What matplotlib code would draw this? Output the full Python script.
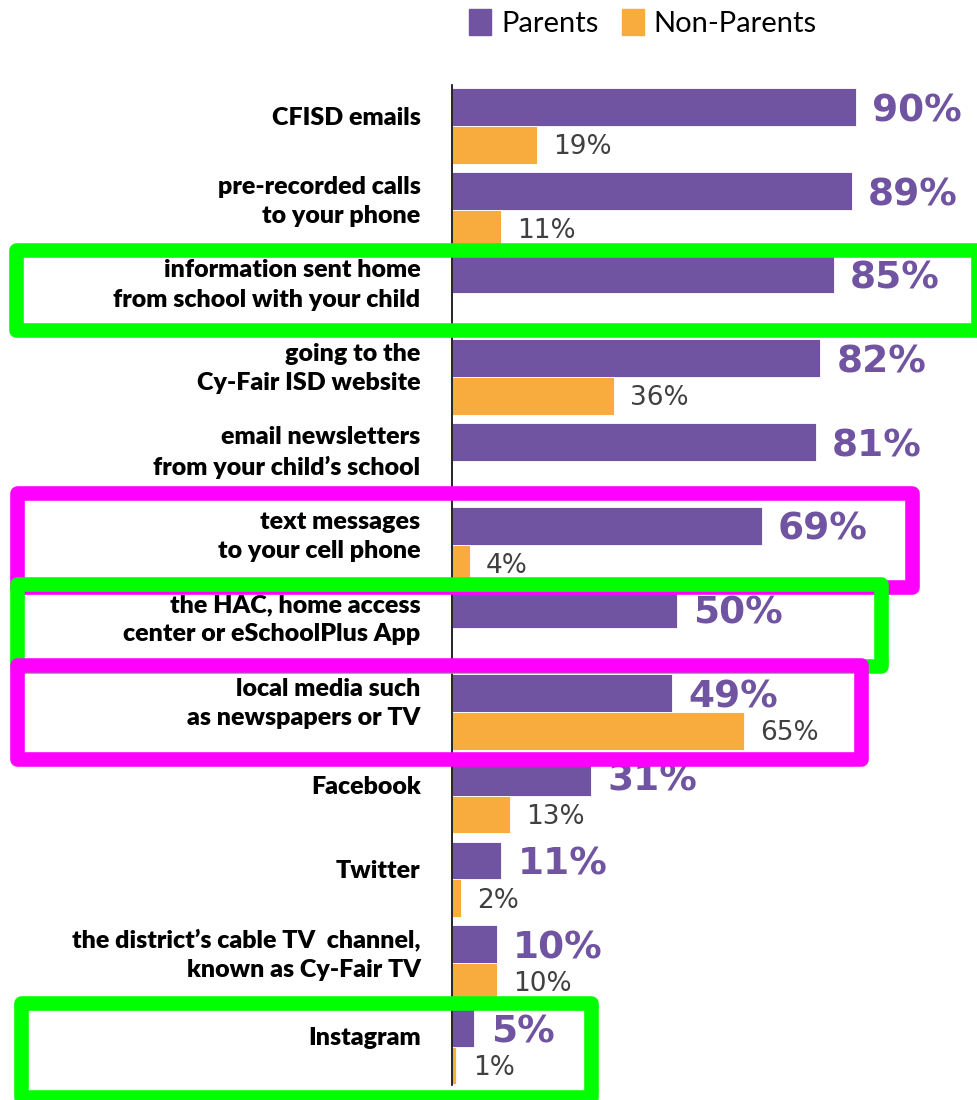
import matplotlib.pyplot as plt
from matplotlib.patches import Rectangle, Patch
from matplotlib.transforms import IdentityTransform

# 数据
categories = [
    "CFISD emails",
    "pre-recorded calls\nto your phone",
    "information sent home\nfrom school with your child",
    "going to the\nCy-Fair ISD website",
    "email newsletters\nfrom your child\u2019s school",
    "text messages\nto your cell phone",
    "the HAC, home access\ncenter or eSchoolPlus App",
    "local media such\nas newspapers or TV",
    "Facebook",
    "Twitter",
    "the district\u2019s cable TV  channel,\nknown as Cy-Fair TV",
    "Instagram",
]
parents = [90, 89, 85, 82, 81, 69, 50, 49, 31, 11, 10, 5]
non_parents = [19, 11, None, 36, None, 4, None, 65, 13, 2, 10, 1]

purple = '#7054a1'
orange = '#f9ac3e'
green = '#00ff00'
magenta = '#ff00ff'

W, H = 977, 1100
fig = plt.figure(figsize=(W / 100, H / 100), dpi=100)
ax = fig.add_axes([452 / W, 0, 1 - 452 / W, 1])

bh = 0.45
for i, (p, n) in enumerate(zip(parents, non_parents)):
    ax.barh(i - bh / 2, p, height=bh, color=purple, edgecolor='white', linewidth=0.6)
    ax.text(p + 3.6, i - bh / 2 + 0.05, f"{p}%", color=purple, fontsize=27,
            fontweight='bold', va='center', ha='left', family='DejaVu Sans')
    if n is not None:
        ax.barh(i + bh / 2, n, height=bh, color=orange, edgecolor='white', linewidth=0.6)
        ax.text(n + 3.6, i + bh / 2 + 0.03, f"{n}%", color='#404040', fontsize=19,
                va='center', ha='left', family='DejaVu Sans')
    ax.text(-7, i - 0.1, categories[i], ha='right', va='center', fontsize=18,
            fontweight='heavy', family=['Lato', 'DejaVu Sans'], linespacing=1.4,
            clip_on=False)

ax.plot([0, 0], [-0.49, 11.46], color='black', lw=1.2, clip_on=False)
ax.set_xlim(0, (W - 452) / 4.49)
ax.set_ylim((H - 126) / 83.7, -126 / 83.7)
ax.axis('off')

# 图例
handles = [Patch(color=purple, label='Parents'), Patch(color=orange, label='Non-Parents')]
fig.legend(handles=handles, loc='upper center', bbox_to_anchor=(643 / W, 1.016), ncol=2,
           frameon=False, handlelength=0.75, handleheight=1.0,
           handletextpad=0.35, columnspacing=0.8, prop={'family': 'Lato', 'size': 21})

# 高亮框 (像素坐标, y 从顶部算)
boxes = [
    (16, 250, 978, 330, green),
    (17, 493, 912, 587, magenta),
    (17, 584, 881, 666, green),
    (17, 665, 861, 759, magenta),
    (21, 1003, 591, 1097, green),
]
for x0, y0, x1, y1, c in boxes:
    r = Rectangle((x0, H - y1), x1 - x0, y1 - y0, fill=False, edgecolor=c,
                  linewidth=10.5, joinstyle='round', transform=IdentityTransform())
    fig.patches.append(r)

fig.savefig('out.png', dpi=100)
